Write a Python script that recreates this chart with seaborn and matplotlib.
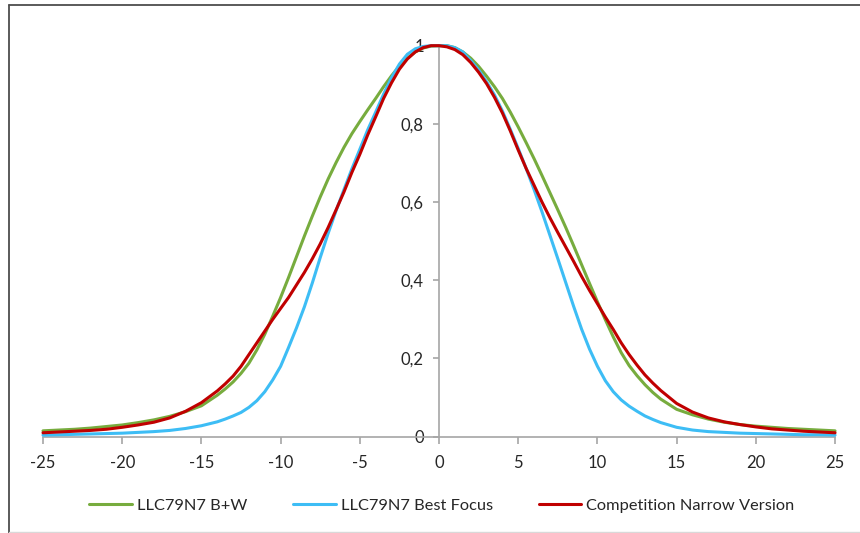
import numpy as np
import pandas as pd
import matplotlib
matplotlib.use("Agg")
import matplotlib.pyplot as plt
import seaborn as sns
from matplotlib.lines import Line2D

# x positions at which values were read off the reference:
# whole steps in the tails, half steps through the central peak
x_vals = (list(range(-25, -14))
          + [v / 2 for v in range(-28, 29)]
          + list(range(15, 26)))

bw_vals = [0.015, 0.017, 0.019, 0.022, 0.026, 0.030, 0.036, 0.043, 0.052, 0.064, 0.079,
           0.106, 0.122, 0.140, 0.162, 0.188, 0.222, 0.262, 0.308, 0.356, 0.407,
           0.460, 0.513, 0.564, 0.613, 0.659, 0.701, 0.740, 0.775, 0.806, 0.836,
           0.865, 0.895, 0.923, 0.948, 0.968, 0.984, 0.994, 0.999, 1.000, 1.000,
           0.995, 0.984, 0.968, 0.947, 0.922, 0.895, 0.865, 0.830, 0.792, 0.752,
           0.711, 0.668, 0.624, 0.580, 0.535, 0.488, 0.440, 0.392, 0.345, 0.299,
           0.255, 0.215, 0.182, 0.156, 0.133, 0.113, 0.096,
           0.070, 0.056, 0.045, 0.037, 0.031, 0.027, 0.024, 0.021, 0.019, 0.017, 0.015]

focus_vals = [0.004, 0.005, 0.006, 0.007, 0.008, 0.009, 0.011, 0.013, 0.016, 0.021, 0.028,
              0.038, 0.045, 0.053, 0.062, 0.075, 0.092, 0.115, 0.145, 0.180, 0.228,
              0.278, 0.332, 0.393, 0.458, 0.520, 0.578, 0.632, 0.685, 0.735, 0.785,
              0.830, 0.876, 0.918, 0.953, 0.978, 0.992, 0.998, 1.000, 1.000, 1.000,
              0.995, 0.984, 0.962, 0.938, 0.908, 0.874, 0.833, 0.786, 0.737, 0.686,
              0.632, 0.575, 0.515, 0.455, 0.394, 0.333, 0.275, 0.224, 0.180, 0.143,
              0.115, 0.094, 0.078, 0.065, 0.053, 0.044, 0.036,
              0.024, 0.017, 0.013, 0.011, 0.009, 0.008, 0.007, 0.006, 0.005, 0.005, 0.004]

comp_vals = [0.010, 0.012, 0.014, 0.016, 0.019, 0.024, 0.030, 0.037, 0.048, 0.065, 0.087,
             0.117, 0.135, 0.155, 0.180, 0.210, 0.240, 0.270, 0.300, 0.328, 0.356,
             0.388, 0.420, 0.455, 0.493, 0.535, 0.580, 0.626, 0.676, 0.722, 0.772,
             0.818, 0.865, 0.905, 0.940, 0.966, 0.984, 0.995, 1.000, 1.000, 0.997,
             0.990, 0.977, 0.957, 0.932, 0.903, 0.868, 0.828, 0.782, 0.733, 0.686,
             0.643, 0.600, 0.560, 0.522, 0.485, 0.448, 0.410, 0.374, 0.340, 0.306,
             0.274, 0.240, 0.210, 0.183, 0.158, 0.137, 0.118,
             0.085, 0.063, 0.048, 0.038, 0.031, 0.025, 0.020, 0.017, 0.014, 0.012, 0.010]

series_names = ["LLC79N7 B+W", "LLC79N7 Best Focus", "Competition Narrow Version"]
series_colors = ["#77AC3E", "#3DBDF5", "#C00000"]

x_ticks = [-25, -20, -15, -10, -5, 0, 5, 10, 15, 20, 25]
y_ticks = [0, 0.2, 0.4, 0.6, 0.8, 1]
y_tick_labels = ["0", "0,2", "0,4", "0,6", "0,8", "1"]

n = len(x_vals)
df = pd.DataFrame({
    "x": x_vals * 3,
    "y": bw_vals + focus_vals + comp_vals,
    "series": [series_names[0]] * n + [series_names[1]] * n + [series_names[2]] * n,
})

sns.set_style("white")
plt.rcParams["font.family"] = ["Lato", "DejaVu Sans"]
plt.rcParams["font.size"] = 11

fig = plt.figure(figsize=(8.6, 5.33), dpi=100)
ax = fig.add_axes([0.05, 0.1807, 0.921, 0.7336])

sns.lineplot(data=df, x="x", y="y", hue="series", hue_order=series_names,
             palette=series_colors, linewidth=2.2, ax=ax, legend=False,
             clip_on=False, zorder=3)

ax.set_xlim(-25, 25)
ax.set_ylim(0, 1)
ax.set_xlabel("")
ax.set_ylabel("")

ax.set_xticks(x_ticks)
ax.set_xticklabels([str(t) for t in x_ticks])
ax.set_yticks(y_ticks)
ax.set_yticklabels(y_tick_labels)

# axes cross at the origin, like the Excel original
ax.spines["left"].set_position(("data", 0))
ax.spines["top"].set_visible(False)
ax.spines["right"].set_visible(False)
for s in ["left", "bottom"]:
    ax.spines[s].set_color("#A6A6A6")
    ax.spines[s].set_linewidth(1.2)
    ax.spines[s].set_zorder(1)

ax.tick_params(axis="x", direction="out", length=5, width=1.2, color="#A6A6A6",
               pad=8, labelcolor="#262626", labelsize=12, bottom=True)
ax.tick_params(axis="y", direction="out", length=4, width=1.2, color="#A6A6A6",
               pad=7, labelcolor="#262626", labelsize=12, left=True)

handles = [Line2D([0], [0], color=c, linewidth=2.2) for c in series_colors]
fig.legend(handles, series_names, loc="center", bbox_to_anchor=(0.514, 0.0507),
           ncol=3, frameon=False, handlelength=2.6, handletextpad=0.3,
           columnspacing=2.8, fontsize=11.8, labelcolor="#262626")

# outer frame lines (top and left dark, bottom light)
fig.add_artist(Line2D([8.5 / 860, 1], [1 - 4.5 / 533, 1 - 4.5 / 533],
                      transform=fig.transFigure, color="#4D4D4D", linewidth=1.3))
fig.add_artist(Line2D([8.5 / 860, 8.5 / 860], [0, 1 - 4.5 / 533],
                      transform=fig.transFigure, color="#4D4D4D", linewidth=1.3))
fig.add_artist(Line2D([8.5 / 860, 1], [1.5 / 533, 1.5 / 533],
                      transform=fig.transFigure, color="#D9D9D9", linewidth=1))

fig.savefig("out.png", dpi=100, facecolor="white")
